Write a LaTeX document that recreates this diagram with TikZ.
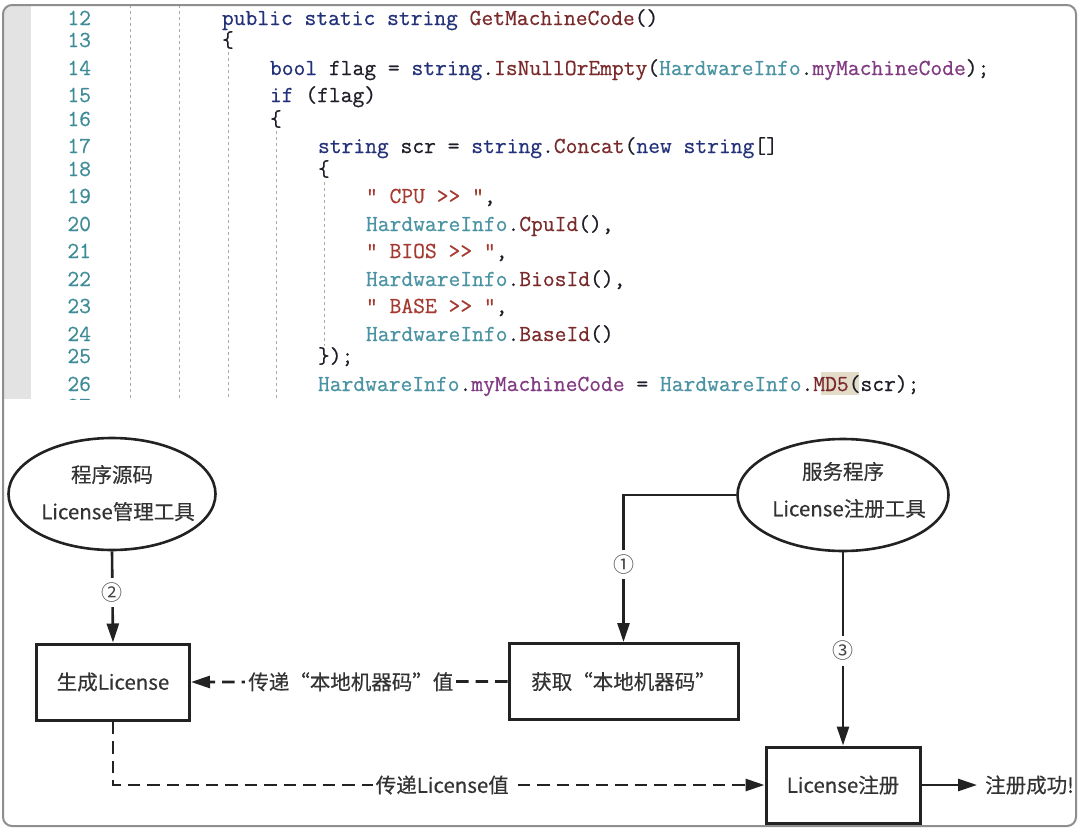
\documentclass[tikz,border=0pt]{standalone}
\usepackage{fontspec}
\usetikzlibrary{arrows.meta,shapes.geometric}
\newfontfamily\cjk[FakeBold=0.35]{Noto Sans CJK SC}
\newfontfamily\cjkfw[CharacterWidth=Full,FakeBold=0.35]{Noto Sans CJK SC}
\newfontfamily\numfont{Noto Sans CJK SC}
\newfontfamily\codefont[FakeBold=0.6]{lmmono12-regular.otf}
\definecolor{kwc}{HTML}{23317A}
\definecolor{mthc}{HTML}{7A2A2A}
\definecolor{clsc}{HTML}{4A93A3}
\definecolor{prpc}{HTML}{823A82}
\definecolor{strc}{HTML}{A53A30}
\definecolor{plainc}{HTML}{1E1E28}
\definecolor{lnc}{HTML}{3E8C98}
\definecolor{gutc}{HTML}{E3E3E3}
\definecolor{framec}{HTML}{8E8E8E}
\definecolor{guidec}{HTML}{A5ADA5}
\definecolor{hlc}{HTML}{E2DCC8}
\definecolor{inkc}{HTML}{222222}
\definecolor{txtc}{HTML}{333333}
\definecolor{numc}{HTML}{454545}
\newcommand\tkw[1]{\textcolor{kwc}{#1}}
\newcommand\tmt[1]{\textcolor{mthc}{#1}}
\newcommand\tcl[1]{\textcolor{clsc}{#1}}
\newcommand\tpr[1]{\textcolor{prpc}{#1}}
\newcommand\tst[1]{\textcolor{strc}{#1}}
\tikzset{
  codetext/.style={anchor=base west, inner sep=0pt, outer sep=0pt, text=plainc,
    font=\codefont\fontsize{22.9}{27}\selectfont},
  linenum/.style={anchor=base east, inner sep=0pt, outer sep=0pt, text=lnc,
    font=\codefont\fontsize{22.9}{27}\selectfont},
  guide/.style={guidec, line width=0.9pt, dash pattern=on 3pt off 3pt},
  ellip/.style={ellipse, draw=inkc, line width=2.6pt, inner sep=0pt},
  etext/.style={align=center, text=txtc, inner sep=0pt,
    font=\cjk\fontsize{20.5}{37}\selectfont},
  boxs/.style={draw=inkc, line width=3pt, minimum width=153pt, minimum height=76pt,
    inner sep=0pt, text=txtc, font=\cjk\fontsize{20.5}{25}\selectfont},
  conn/.style={draw=inkc, line width=2.6pt, -{Triangle[length=19pt,width=12pt]}},
  dconn/.style={conn, line width=2.8pt, dash pattern=on 12.5pt off 7pt},
  numlab/.style={fill=white, inner sep=5pt, text=numc, font=\numfont\fontsize{21}{23}\selectfont},
  dlab/.style={fill=white, inner sep=3pt, text=txtc, font=\cjk\fontsize{20.5}{25}\selectfont},
}
\begin{document}
\begin{tikzpicture}[x=1pt,y=-1pt]
\useasboundingbox (0,0) rectangle (1080,838);
\fill[white] (0,0) rectangle (1080,838);
% gutter
\begin{scope}
  \clip[rounded corners=9pt] (3,5) rectangle (1076,826);
  \fill[gutc] (3,5) rectangle (31,399);
\end{scope}
% MD5 highlight
\fill[hlc] (821,372) rectangle (859,395);
% guides
\draw[guide] (130,5) -- (130,399);
\draw[guide] (179,5) -- (179,399);
\draw[guide] (228,52) -- (228,399);
\draw[guide] (276,131) -- (276,399);
\draw[guide] (324,182) -- (324,346);
% line numbers
\begin{scope}
\clip (31,5) rectangle (1076,399);
\node[linenum] (n12) at (91,25) {12};
\node[linenum] (n13) at (91,47) {13};
\node[linenum] (n14) at (91,75) {14};
\node[linenum] (n15) at (91,102) {15};
\node[linenum] (n16) at (91,126) {16};
\node[linenum] (n17) at (91,153) {17};
\node[linenum] (n18) at (91,176) {18};
\node[linenum] (n19) at (91,203) {19};
\node[linenum] (n20) at (91,231) {20};
\node[linenum] (n21) at (91,258) {21};
\node[linenum] (n22) at (91,286) {22};
\node[linenum] (n23) at (91,313) {23};
\node[linenum] (n24) at (91,341) {24};
\node[linenum] (n25) at (91,363) {25};
\node[linenum] (n26) at (91,391) {26};
\node[linenum] (n27) at (91,413) {27};
\end{scope}
% code
\node[codetext] (c12) at (222,25) {\tkw{public static string} \tmt{GetMachineCode}()};
\node[codetext] (c13) at (222,47) {\{};
\node[codetext] (c14) at (270,75) {\tkw{bool} flag = \tkw{string}.\tmt{IsNullOrEmpty}(\tcl{HardwareInfo}.\tpr{myMachineCode});};
\node[codetext] (c15) at (270,102) {\tkw{if} (flag)};
\node[codetext] (c16) at (270,126) {\{};
\node[codetext] (c17) at (318,153) {\tkw{string} scr = \tkw{string}.\tmt{Concat}(\tkw{new} \tkw{string}[]};
\node[codetext] (c18) at (318,176) {\{};
\node[codetext] (c19) at (366,203) {\tst{" CPU >> "},};
\node[codetext] (c20) at (366,231) {\tcl{HardwareInfo}.\tmt{CpuId}(),};
\node[codetext] (c21) at (366,258) {\tst{" BIOS >> "},};
\node[codetext] (c22) at (366,286) {\tcl{HardwareInfo}.\tmt{BiosId}(),};
\node[codetext] (c23) at (366,313) {\tst{" BASE >> "},};
\node[codetext] (c24) at (366,341) {\tcl{HardwareInfo}.\tmt{BaseId}()};
\node[codetext] (c25) at (318,363) {\});};
\node[codetext] (c26) at (318,391) {\tcl{HardwareInfo}.\tpr{myMachineCode} = \tcl{HardwareInfo}.\tmt{MD5}(scr);};
% frame
\draw[framec, line width=2pt, rounded corners=9pt] (3,5) rectangle (1076,826);
% flowchart nodes
\node[ellip, minimum width=207pt, minimum height=112pt] (e1) at (112,494) {};
\node[etext] (e1t) at (112,493) {程序源码\\\hspace*{12pt}License管理工具};
\node[ellip, minimum width=211pt, minimum height=112pt] (e2) at (843,495) {};
\node[etext] (e2t) at (843,490) {服务程序\\\hspace*{12pt}License注册工具};
\node[boxs] (r1) at (113,682) {生成License};
\node[boxs, minimum width=229pt] (r2) at (623.5,681.5) {\cjkfw 获取“本地机器码”};
\node[boxs, minimum width=154pt] (r3) at (843,785) {License注册};
\coordinate (okend) at (977,785);
\node[anchor=west, inner sep=0pt, text=txtc, font=\cjk\fontsize{20.5}{25}\selectfont] (oktext) at (985,785) {注册成功!};
% connectors
\draw[conn] (e1.south) -- node[numlab, pos=0.45] (l2) {②} (r1.north);
\draw[conn] (e2.west) -| node[numlab, pos=0.736] (l1) {①} (r2.north);
\draw[conn] (e2.south) -- node[numlab, pos=0.51] (l3) {③} (r3.north);
\draw[dconn] (r2.west) -- node[dlab, pos=0.495] (d1) {\cjkfw 传递“本地机器码”值} (r1.east);
\draw[dconn] (r1.south) |- node[dlab, pos=0.7527] (d2) {传递License值} (r3.west);
\draw[conn] (r3.east) -- (okend);
\end{tikzpicture}
\end{document}
